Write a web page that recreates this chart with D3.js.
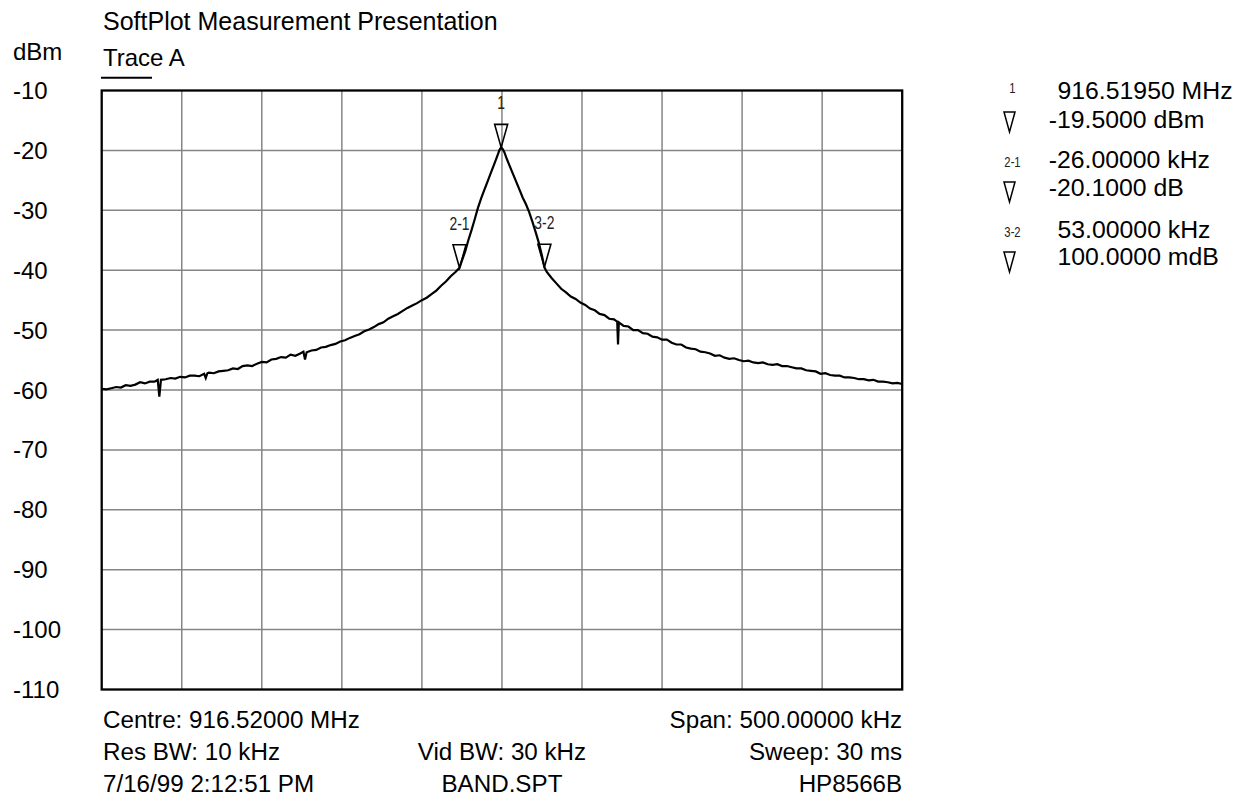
<!DOCTYPE html>
<html>
<head>
<meta charset="utf-8">
<script src="https://cdn.jsdelivr.net/npm/d3@7"></script>
<style>
  html, body { margin: 0; padding: 0; background: #fff; }
  svg { display: block; font-family: "Liberation Sans", Arial, Helvetica, sans-serif; }
</style>
</head>
<body>
<svg id="chart" width="1243" height="804"></svg>
<script>
// ---------------- data ----------------
const titleText = "SoftPlot Measurement Presentation";
const unitLabel = "dBm";
const traceName = "Trace A";
const yTicks = [-10, -20, -30, -40, -50, -60, -70, -80, -90, -100, -110];
const xGridKHz = [-250, -200, -150, -100, -50, 0, 50, 100, 150, 200, 250];

// frequency offset from centre (kHz) and level (dBm)
const traceKHz = [
  -250,-247,-244,-241,-238,-235,-232,-229,-226,-223,-220,-217,-215,-214,-213,-210,-207,-204,-201,-198,
  -195,-192,-189,-186,-185,-184,-183,-180,-177,-174,-171,-168,-165,-162,-159,-156,-153,-150,-147,-144,
  -141,-138,-135,-132,-129,-126,-124,-123,-122,-119,-116,-113,-110,-107,-104,-101,-98,-95,-92,-89,
  -86,-83,-80,-77,-74,-71,-68,-65,-62,-59,-56,-53,-50,-47,-44,-41,-38,-35,-32,-29,
  -26.5,-25,-23,-21,-19,-17,-15,-13,-11,-9,-7,-5,-3,-1.5,-0.5,
  0.5,1.5,3,5,7,9,11,13,15,17,19,21,23,25,26.5,28,31,34,37,40,
  43,46,49,52,55,58,61,64,67,70,72,72.5,73,76,79,82,85,88,91,94,
  97,100,103,106,109,112,115,118,121,124,127,130,133,136,139,142,145,148,151,154,
  157,160,163,166,169,172,175,178,181,184,187,190,193,196,199,202,205,208,211,214,
  217,220,223,226,229,232,235,238,241,244,247,250
];
const traceDbm = [
  -59.8,-59.9,-59.7,-59.5,-59.6,-59.2,-59.3,-59.1,-58.7,-58.9,-58.6,-58.6,-58.3,-61.1,-58.3,-58.2,-58.0,-58.1,-57.8,-57.9,
  -57.6,-57.6,-57.7,-57.3,-58.0,-57.2,-57.1,-57.2,-56.9,-56.8,-56.7,-56.4,-56.5,-56.0,-55.9,-56.0,-55.6,-55.3,-55.4,-54.9,
  -54.8,-54.5,-54.6,-54.1,-54.3,-53.9,-53.6,-54.9,-53.7,-53.4,-53.3,-52.9,-52.8,-52.5,-52.3,-51.9,-51.7,-51.3,-51.0,-50.7,
  -50.2,-49.9,-49.5,-49.0,-48.7,-48.1,-47.7,-47.3,-46.8,-46.3,-45.9,-45.5,-45.0,-44.6,-44.0,-43.4,-42.6,-41.9,-41.0,-40.3,
  -39.6,-38.4,-36.9,-35.0,-33.3,-31.5,-29.6,-28.0,-26.6,-25.2,-23.8,-22.4,-21.0,-19.9,-19.5,
  -19.8,-20.3,-21.4,-22.7,-24.0,-25.3,-26.6,-27.9,-29.0,-30.3,-31.9,-33.6,-35.4,-37.6,-39.5,-40.3,-41.3,-42.2,-43.1,-43.7,
  -44.4,-44.8,-45.4,-45.8,-46.4,-46.7,-47.3,-47.5,-48.1,-48.2,-48.6,-52.4,-48.7,-49.3,-49.4,-50.0,-50.0,-50.5,-50.6,-51.1,
  -51.2,-51.6,-51.6,-52.1,-52.4,-52.4,-52.9,-53.1,-53.2,-53.6,-53.7,-53.9,-54.3,-54.2,-54.6,-54.8,-54.7,-55.0,-55.2,-55.1,
  -55.4,-55.5,-55.4,-55.7,-55.8,-55.7,-56.0,-56.0,-56.2,-56.4,-56.4,-56.7,-56.8,-56.9,-57.3,-57.2,-57.5,-57.6,-57.6,-57.9,
  -57.9,-58.0,-58.2,-58.2,-58.4,-58.3,-58.6,-58.6,-58.7,-58.9,-58.8,-59.0
];

// markers
const markerKHz = [-0.5, -26.5, 26.5];
const markerDbm = [-19.5, -39.6, -39.5];
const markerNames = ["1", "2-1", "3-2"];

// marker readout panel
const readoutTags = ["1", "2-1", "3-2"];
const readoutFreq = ["916.51950 MHz", "-26.00000 kHz", "53.00000 kHz"];
const readoutLevel = ["-19.5000 dBm", "-20.1000 dB", "100.0000 mdB"];

// footer
const footerLeft = ["Centre: 916.52000 MHz", "Res BW: 10 kHz", "7/16/99 2:12:51 PM"];
const footerMid = ["", "Vid BW: 30 kHz", "BAND.SPT"];
const footerRight = ["Span: 500.00000 kHz", "Sweep: 30 ms", "HP8566B"];

// ---------------- layout ----------------
const svg = d3.select("#chart");
const P = { left: 101.7, right: 902.2, top: 90.5, bottom: 689.5 };

const x = d3.scaleLinear().domain([-250, 250]).range([P.left, P.right]);
const y = d3.scaleLinear().domain([-10, -110]).range([P.top, P.bottom]);

// grid
const grid = svg.append("g");
grid.selectAll("line.v").data(xGridKHz.slice(1, -1)).enter().append("line")
  .attr("x1", d => x(d)).attr("x2", d => x(d))
  .attr("y1", P.top).attr("y2", P.bottom)
  .attr("stroke", "#858585").attr("stroke-width", 1.5);
grid.selectAll("line.h").data(yTicks.slice(1, -1)).enter().append("line")
  .attr("y1", d => y(d)).attr("y2", d => y(d))
  .attr("x1", P.left).attr("x2", P.right)
  .attr("stroke", "#858585").attr("stroke-width", 1.5);

// frame
svg.append("rect")
  .attr("x", P.left).attr("y", P.top)
  .attr("width", P.right - P.left).attr("height", P.bottom - P.top)
  .attr("fill", "none").attr("stroke", "#000").attr("stroke-width", 2.3);

// y labels
svg.append("g").selectAll("text").data(yTicks).enter().append("text")
  .attr("x", 13).attr("y", d => y(d) + 8.5)
  .attr("font-size", 24).attr("fill", "#000")
  .text(d => d);

svg.append("text").attr("x", 13).attr("y", 59.5).attr("font-size", 24).text(unitLabel);
svg.append("text").attr("x", 103).attr("y", 30).attr("font-size", 25).text(titleText);
svg.append("text").attr("x", 103).attr("y", 65.7).attr("font-size", 24).text(traceName);
svg.append("line").attr("x1", 101).attr("x2", 152).attr("y1", 77.7).attr("y2", 77.7)
  .attr("stroke", "#000").attr("stroke-width", 2);

// trace
const tracePts = traceKHz.map((f, i) => [f, traceDbm[i]]);
svg.append("path")
  .datum(tracePts)
  .attr("fill", "none").attr("stroke", "#000").attr("stroke-width", 2.2)
  .attr("stroke-linejoin", "miter")
  .attr("d", d3.line().x(d => x(d[0])).y(d => y(d[1])));

// markers on trace
const mk = svg.append("g");
markerKHz.forEach((f, i) => {
  const mx = x(f), my = y(markerDbm[i]);
  mk.append("path")
    .attr("d", `M${mx - 6.5},${my - 23} L${mx + 6.5},${my - 23} L${mx},${my} Z`)
    .attr("fill", "none").attr("stroke", "#000").attr("stroke-width", 1.6);
  mk.append("text")
    .attr("transform", `translate(${mx},${my - 38}) scale(0.77,1)`)
    .attr("text-anchor", "middle").attr("font-size", 18).attr("fill", "#222")
    .text(markerNames[i]);
});

// readout panel
const rowFreqBase = [99.3, 168.3, 238.3];
const rowLevelBase = [128.3, 195.5, 265];
const tagBase = [93, 167, 237];
const triTip = [132, 202, 272];
const ro = svg.append("g");
readoutTags.forEach((t, i) => {
  ro.append("text")
    .attr("transform", `translate(1012.5,${tagBase[i]}) scale(0.75,1)`)
    .attr("text-anchor", "middle").attr("font-size", 15).attr("fill", "#222")
    .text(t);
  ro.append("path")
    .attr("d", `M${1004},${triTip[i] - 20} L${1015},${triTip[i] - 20} L${1009.5},${triTip[i]} Z`)
    .attr("fill", "none").attr("stroke", "#000").attr("stroke-width", 1.5);
  const f = readoutFreq[i], l = readoutLevel[i];
  ro.append("text").attr("x", f.startsWith("-") ? 1048.7 : 1057.5).attr("y", rowFreqBase[i])
    .attr("font-size", 24.8).text(f);
  ro.append("text").attr("x", l.startsWith("-") ? 1048.7 : 1057.5).attr("y", rowLevelBase[i])
    .attr("font-size", 24.8).text(l);
});

// footer
const footBase = [728, 760, 792];
const ft = svg.append("g").attr("font-size", 24.2);
footBase.forEach((b, i) => {
  ft.append("text").attr("x", 103).attr("y", b).text(footerLeft[i]);
  ft.append("text").attr("x", (P.left + P.right) / 2).attr("y", b).attr("text-anchor", "middle").text(footerMid[i]);
  ft.append("text").attr("x", P.right).attr("y", b).attr("text-anchor", "end").text(footerRight[i]);
});
</script>
</body>
</html>
